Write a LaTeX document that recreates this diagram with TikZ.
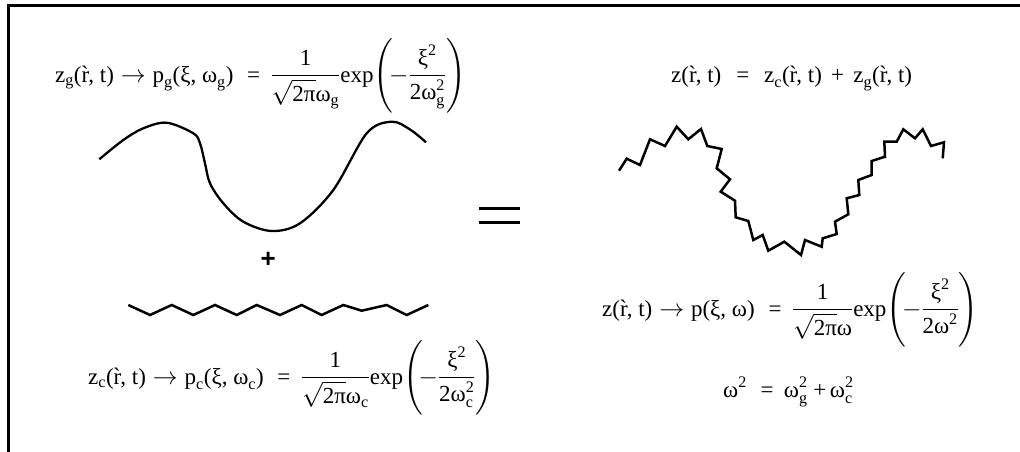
\documentclass[tikz,border=0pt]{standalone}
\usepackage{amsmath}
\usepackage{fontspec}
\setmainfont{Liberation Serif}
\setsansfont{Liberation Sans}
\newcommand{\tx}[1]{\text{#1}}
\newcommand{\rv}{\`r}
\newcommand{\eqsp}{\hspace{0.6em}=\hspace{0.45em}}
\begin{document}
\begin{tikzpicture}[x=1pt,y=-1pt,
  frameline/.style={line width=2.6pt,line cap=rect},
  wave/.style={line width=2.3pt,line cap=butt},
  zig/.style={line width=2.5pt,line join=miter},
  eqn/.style={inner sep=0pt,font=\fontsize{23}{27}\selectfont},
  plus/.style={inner sep=0pt,font=\sffamily\bfseries\fontsize{26}{30}\selectfont}]
\useasboundingbox (0,0) rectangle (1020,452);
% frame
\draw[frameline] (8.7,452) -- (8.7,5.3) -- (1020,5.3);
% formula top left
\node[eqn,anchor=base west] (fg) at (55,82)
  {$\tx{z}_{\tx{g}}\tx{(\rv, t)}\rightarrow\tx{p}_{\tx{g}}\tx{(ξ, ω}_{\tx{g}}\tx{)\eqsp}\dfrac{\tx{1}}{\sqrt{\tx{2π}}\tx{ω}_{\tx{g}}}\tx{exp}\mathopen{}\Biggl(\!-\dfrac{\tx{ξ}^{\tx{2}}}{\tx{2ω}_{\tx{g}}^{\tx{2}}}\Biggr)$};
% formula bottom left
\node[eqn,anchor=base west] (fc) at (88,384)
  {$\tx{z}_{\tx{c}}\tx{(\rv, t)}\rightarrow\tx{p}_{\tx{c}}\tx{(ξ, ω}_{\tx{c}}\tx{)\eqsp}\dfrac{\tx{1}}{\sqrt{\tx{2π}}\tx{ω}_{\tx{c}}}\tx{exp}\mathopen{}\Biggl(\!-\dfrac{\tx{ξ}^{\tx{2}}}{\tx{2ω}_{\tx{c}}^{\tx{2}}}\Biggr)$};
% formula top right
\node[eqn,anchor=base west] (fs) at (671,82)
  {$\tx{z(\rv, t)\hspace{0.65em}=\hspace{0.65em}z}_{\tx{c}}\tx{(\rv, t)\hspace{0.4em}+\hspace{0.4em}z}_{\tx{g}}\tx{(\rv, t)}$};
% formula middle right
\node[eqn,anchor=base west] (fp) at (602,316)
  {$\tx{z(\rv, t)}\rightarrow\tx{p(ξ, ω)\eqsp}\dfrac{\tx{1}}{\sqrt{\tx{2π}}\tx{ω}}\tx{exp}\mathopen{}\Biggl(\!-\dfrac{\tx{ξ}^{\tx{2}}}{\tx{2ω}^{\tx{2}}}\Biggr)$};
% formula omega
\node[eqn,anchor=base west] (fw) at (723,397)
  {$\tx{ω}^{\tx{2}}\tx{\eqsp ω}_{\tx{g}}^{\tx{2}}\tx{\hspace{0.25em}+\hspace{0.15em}ω}_{\tx{c}}^{\tx{2}}$};
% plus
\node[plus] (pl) at (268.3,260) {+};
% equals sign
\draw[line width=2.7pt] (479.3,208.3) -- (520,208.3);
\draw[line width=2.7pt] (479.3,222.3) -- (520,222.3);
% smooth wave
\draw[wave] plot[smooth,tension=0.55] coordinates {
 (99.3,159.3) (123.3,140) (143.3,128.3) (166.7,122.7) (193.3,133.3) (200,143.3)
 (205,163.3) (210,183.3) (223.3,203.3) (243.3,221.7) (271.7,231) (300,223.3)
 (333.3,190) (366.7,133.3) (391.7,121.7) (410,129.5) (426,142.3)};
% bottom zigzag
\draw[zig] plot coordinates {
 (128.3,305) (150,315) (171.7,305) (193.3,315) (215,305) (236.7,315)
 (256.7,305) (280,315) (301.7,305) (321.7,315) (343.3,305) (361.7,310.7)
 (386.7,305) (406.7,315) (428.3,305)};
% rough wave
\draw[zig] plot coordinates {
 (619,170.7) (626.7,158.7) (640,165) (650,139.3) (665,146) (676.7,126.7)
 (688.3,139.3) (701,129) (707.3,146) (721.7,149) (716.7,168.3) (730,179.3)
 (720.7,191.7) (735,200.7) (735.7,217.3) (748.3,221) (753.3,240) (762.7,235)
 (768.3,250.7) (784.3,241.7) (801,255) (805,240) (821.7,246.7) (822.7,238.3)
 (836.7,234) (835,221.7) (848.3,214.3) (846.7,198.3) (859.3,195) (858.3,180)
 (871.7,175) (871.7,161) (885,156.7) (884.3,141.7) (896.7,141.7) (903.3,129.3)
 (915,138.3) (922.7,129.3) (931,146) (944,142.3) (942.7,158.3)};
\end{tikzpicture}
\end{document}
